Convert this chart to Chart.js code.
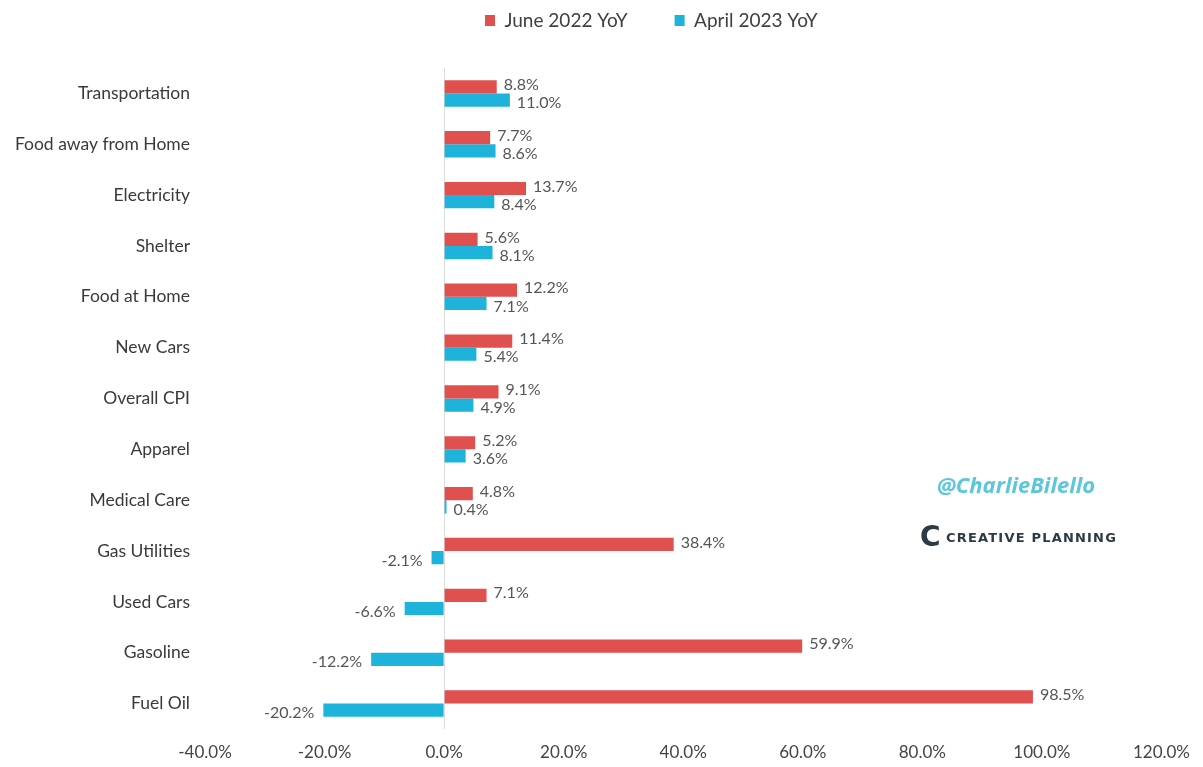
<!DOCTYPE html>
<html><head><meta charset="utf-8">
<script src="https://cdn.jsdelivr.net/npm/chart.js@4.4.0/dist/chart.umd.min.js"></script>
<style>html,body{margin:0;padding:0;background:#fff;}#wrap{width:1203px;height:767px;position:relative;}</style>
</head><body><div id="wrap"><canvas id="c" width="1203" height="767"></canvas></div>
<script>
const categories = ['Transportation','Food away from Home','Electricity','Shelter','Food at Home','New Cars','Overall CPI','Apparel','Medical Care','Gas Utilities','Used Cars','Gasoline','Fuel Oil'];
const june2022 = [8.8, 7.7, 13.7, 5.6, 12.2, 11.4, 9.1, 5.2, 4.8, 38.4, 7.1, 59.9, 98.5];
const april2023 = [11.0, 8.6, 8.4, 8.1, 7.1, 5.4, 4.9, 3.6, 0.4, -2.1, -6.6, -12.2, -20.2];
const seriesLabels = ['June 2022 YoY', 'April 2023 YoY'];
const xMin = -40, xMax = 120, xStep = 20;

const FONT = 'Lato, "Liberation Sans", sans-serif';
const RED = '#E0504F';
const CYAN = '#1DB3DB';

const legendPatch = {
  id: 'legendPatch',
  beforeLayout(chart) {
    const lg = chart.legend;
    if (!lg || lg._patched) return;
    lg._patched = true;
    const fit = lg.fit;
    lg.fit = function () { fit.call(this); this.height = 68; };
    const innerDraw = lg._draw;
    lg._draw = function () {
      const ctx = this.ctx;
      ctx.save(); ctx.translate(438, -36);
      innerDraw.call(this);
      ctx.restore();
    };
  }
};

const valueLabels = {
  id: 'valueLabels',
  afterDatasetsDraw(chart) {
    const ctx = chart.ctx;
    ctx.save();
    ctx.font = '16px ' + FONT;
    ctx.fillStyle = '#555555';
    ctx.textBaseline = 'middle';
    chart.data.datasets.forEach((ds, di) => {
      const meta = chart.getDatasetMeta(di);
      meta.data.forEach((bar, i) => {
        const v = ds.data[i];
        const txt = v.toFixed(1) + '%';
        const dy = di === 0 ? -2 : 3;
        if (v >= 0) { ctx.textAlign = 'left'; ctx.fillText(txt, bar.x + 7, bar.y + dy); }
        else { ctx.textAlign = 'right'; ctx.fillText(txt, bar.x - 9, bar.y + dy); }
      });
    });
    ctx.restore();
  }
};

const watermark = {
  id: 'watermark',
  afterDraw(chart) {
    const ctx = chart.ctx;
    ctx.save();
    ctx.textBaseline = 'middle';
    ctx.textAlign = 'left';
    ctx.font = 'bold italic 22px "Open Sans", sans-serif';
    ctx.fillStyle = '#5CC6DA';
    ctx.fillText('@CharlieBilello', 937, 487);
    ctx.font = 'bold 28px "DejaVu Sans", sans-serif';
    ctx.fillStyle = '#2B3A44';
    ctx.fillText('C', 920, 539);
    ctx.font = 'bold 13px "DejaVu Sans", sans-serif';
    try { ctx.letterSpacing = '1.2px'; } catch (e) {}
    ctx.fillText('CREATIVE PLANNING', 946, 539);
    ctx.restore();
  }
};

new Chart(document.getElementById('c'), {
  type: 'bar',
  data: {
    labels: categories,
    datasets: [
      { label: seriesLabels[0], data: june2022, backgroundColor: RED, borderWidth: 0, categoryPercentage: 0.52, barPercentage: 1.0 },
      { label: seriesLabels[1], data: april2023, backgroundColor: CYAN, borderWidth: 0, categoryPercentage: 0.52, barPercentage: 1.0 }
    ]
  },
  options: {
    indexAxis: 'y',
    responsive: false,
    animation: false,
    layout: { padding: { left: 0, right: 40, top: 0, bottom: 0 } },
    plugins: {
      legend: {
        position: 'top', align: 'start',
        labels: { boxWidth: 10, boxHeight: 11, padding: 47, color: '#404040', font: { family: FONT, size: 19 } }
      },
      tooltip: { enabled: false }
    },
    scales: {
      x: {
        min: xMin, max: xMax,
        ticks: { stepSize: xStep, padding: 13, color: '#444', font: { family: FONT, size: 17 }, callback: v => v.toFixed(1) + '%' },
        grid: { drawTicks: false, color: c => (c.tick && c.tick.value === 0) ? '#dcdcdc' : 'rgba(0,0,0,0)' },
        border: { display: false },
        afterFit(s) { s.height = 38; }
      },
      y: {
        ticks: { padding: 15, color: '#3a3a3a', font: { family: FONT, size: 17.5 } },
        grid: { display: false, drawTicks: false },
        border: { display: false },
        afterFit(s) { s.width = 205; }
      }
    }
  },
  plugins: [legendPatch, valueLabels, watermark]
});
</script></body></html>
